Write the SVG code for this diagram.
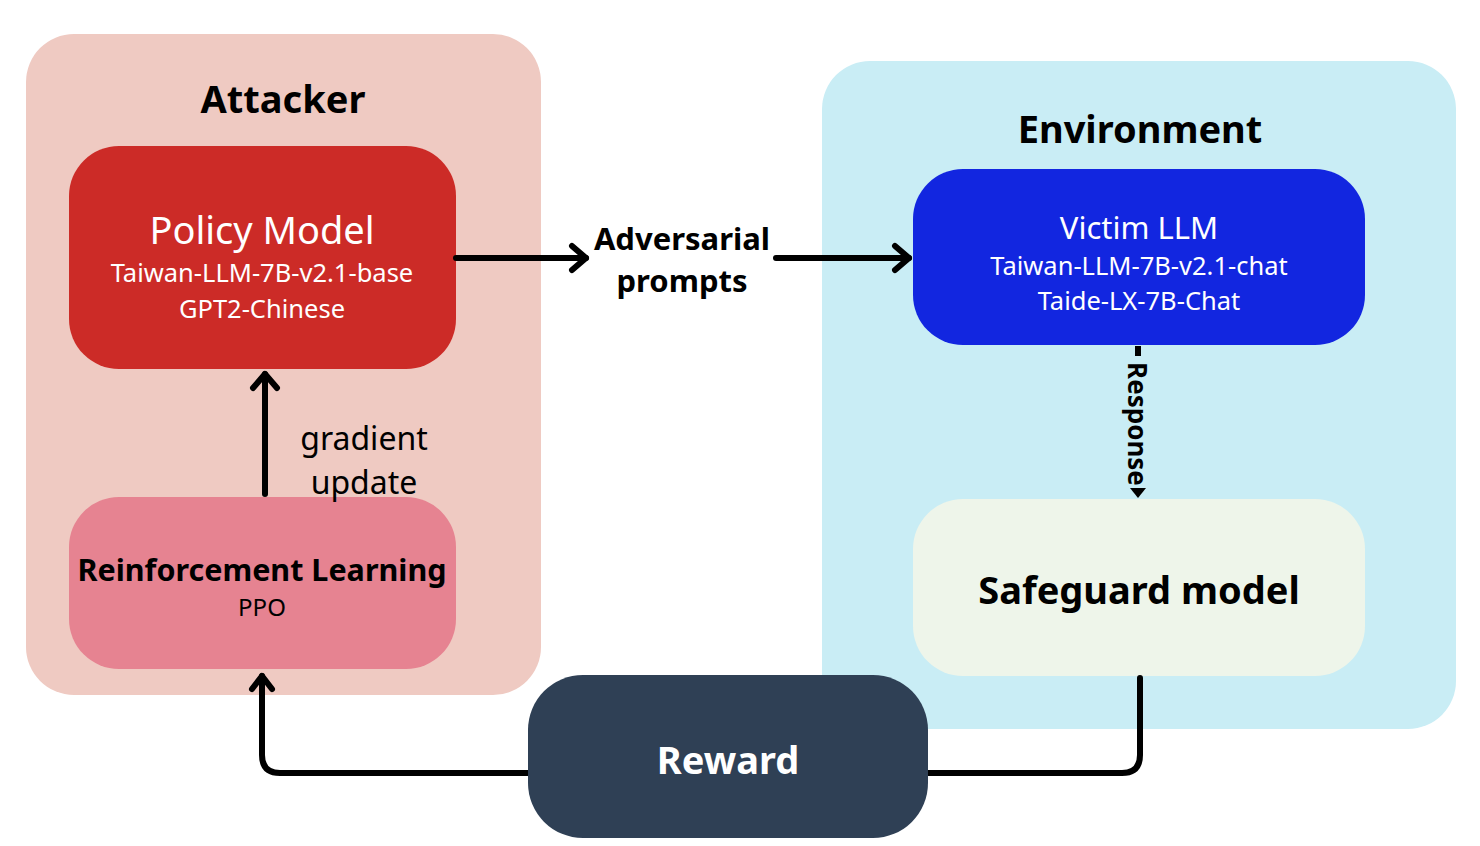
<svg xmlns="http://www.w3.org/2000/svg" width="1480" height="846" viewBox="0 0 1480 846">
<defs>
<style>
text{font-family:"Noto Sans","Open Sans",sans-serif;text-anchor:middle}
.b{font-weight:bold}
.w{fill:#ffffff}
.k{fill:#000000}
.line{fill:none;stroke:#000;stroke-width:6;stroke-linecap:round;stroke-linejoin:round}
.head{fill:none;stroke:#000;stroke-width:6;stroke-linecap:round;stroke-linejoin:round}
</style>
</defs>
<rect width="1480" height="846" fill="#ffffff"/>
<g id="attacker">
<rect x="26" y="34" width="515" height="661" rx="48" fill="#EFCAC2"/>
<text x="283" y="113" font-size="38" class="b k">Attacker</text>
</g>
<g id="environment">
<rect x="822" y="61" width="634" height="668" rx="48" fill="#C9EDF5"/>
<text x="1140" y="143" font-size="38" class="b k">Environment</text>
</g>
<g id="policy-model">
<rect x="69" y="146" width="387" height="223" rx="50" fill="#CC2B27"/>
<text x="262" y="244" font-size="38" class="w">Policy Model</text>
<text x="262" y="282" font-size="25.5" class="w">Taiwan-LLM-7B-v2.1-base</text>
<text x="262" y="318" font-size="25.5" class="w">GPT2-Chinese</text>
</g>
<g id="reinforcement-learning">
<rect x="69" y="497" width="387" height="172" rx="50" fill="#E68391"/>
<text x="262" y="581" font-size="30.5" class="b k">Reinforcement Learning</text>
<text x="262" y="616" font-size="24" class="k">PPO</text>
</g>
<g id="victim-llm">
<rect x="913" y="169" width="452" height="176" rx="50" fill="#1226E0"/>
<text x="1139" y="239" font-size="31" class="w">Victim LLM</text>
<text x="1139" y="275" font-size="25.5" class="w">Taiwan-LLM-7B-v2.1-chat</text>
<text x="1139" y="310" font-size="25.5" class="w">Taide-LX-7B-Chat</text>
</g>
<g id="safeguard-model">
<rect x="913" y="499" width="452" height="177" rx="50" fill="#EEF5EA"/>
<text x="1139" y="604" font-size="38" class="b k">Safeguard model</text>
</g>
<g id="connectors">
<line x1="456" y1="258" x2="586" y2="258" class="line"/>
<polyline points="572,246 586,258 572,270" class="head"/>
<line x1="776" y1="258" x2="909" y2="258" class="line"/>
<polyline points="895,246 909,258 895,270" class="head"/>
<text x="682" y="250" font-size="31" class="b k">Adversarial</text>
<text x="682" y="292" font-size="31" class="b k">prompts</text>
<line x1="265" y1="494" x2="265" y2="374" class="line"/>
<polyline points="253,388 265,374 277,388" class="head"/>
<text x="364" y="450" font-size="32" class="k">gradient</text>
<text x="364" y="494" font-size="32" class="k">update</text>
<line x1="1138" y1="346" x2="1138" y2="356" stroke="#000" stroke-width="6"/>
<polygon points="1130,488 1146,488 1138,498" fill="#000"/>
<text transform="translate(1128,424) rotate(90)" font-size="26" class="b k">Response</text>
<path d="M1140,678 V755 Q1140,773 1122,773 H280 Q262,773 262,755 V676" class="line"/>
<polyline points="252,689 262,676 272,689" class="head"/>
</g>
<g id="reward">
<rect x="528" y="675" width="400" height="163" rx="55" fill="#2F4055"/>
<text x="728" y="774" font-size="38" class="b w">Reward</text>
</g>
</svg>
